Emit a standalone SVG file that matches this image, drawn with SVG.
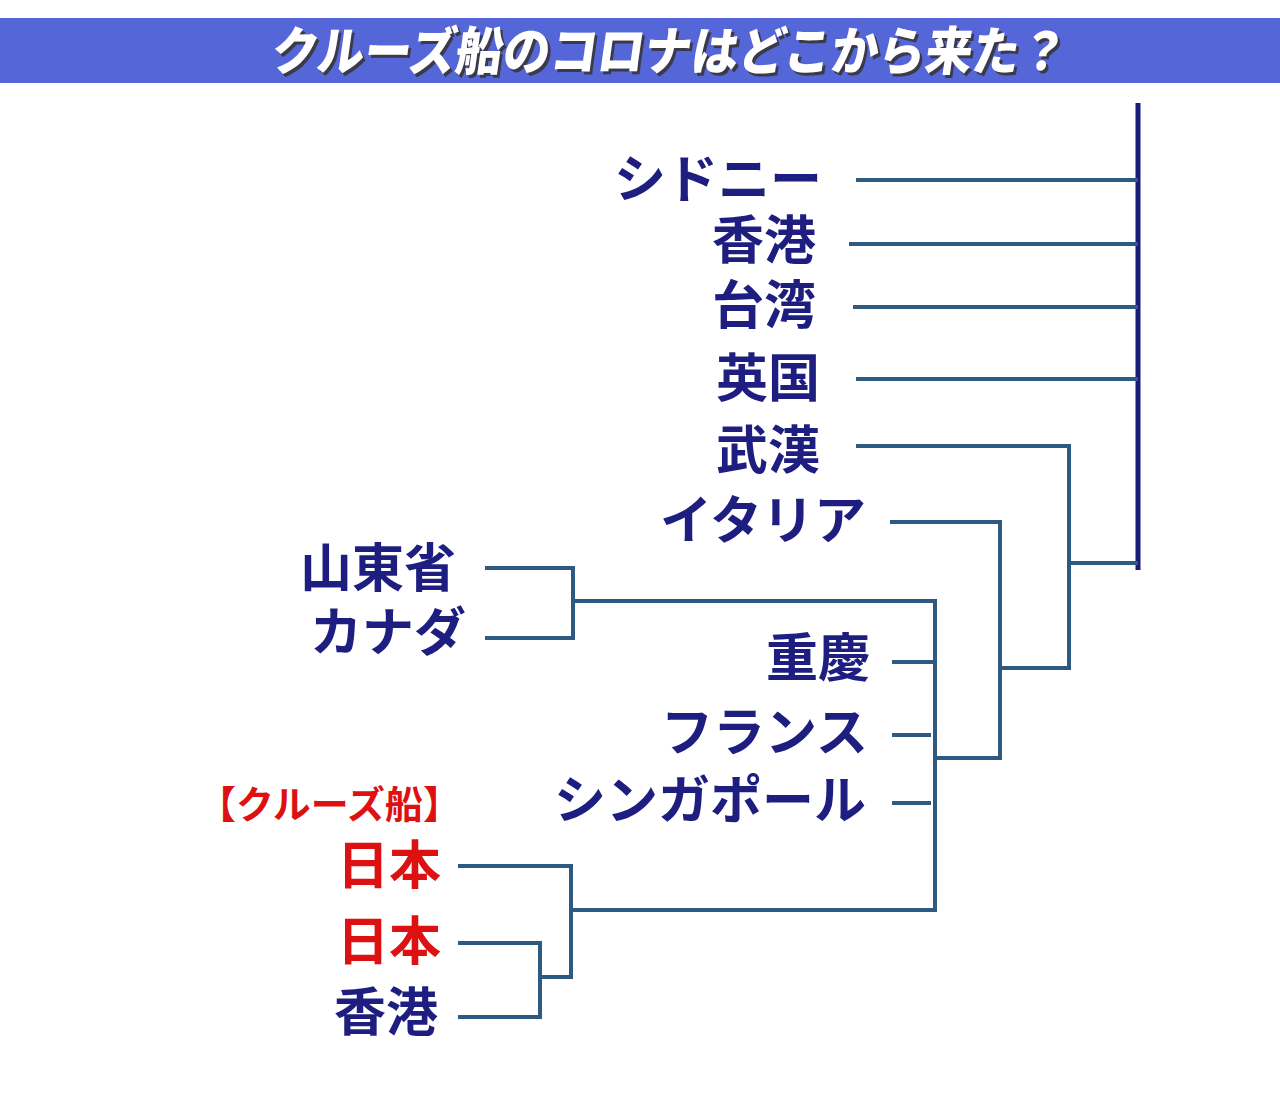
<svg xmlns="http://www.w3.org/2000/svg" width="1280" height="1099" viewBox="0 0 1280 1099">
<style>
.lbl{font-family:"Noto Sans CJK JP","Noto Sans CJK SC",sans-serif;font-weight:700;font-size:52px;fill:#1e1e80;text-anchor:end}
.red{fill:#dd1111}
.ln{fill:none;stroke:#2e5a80;stroke-width:4;stroke-linecap:butt;stroke-linejoin:miter}
.main{fill:none;stroke:#1a1a78;stroke-width:5}
.ttl{font-family:"Noto Sans CJK JP","Noto Sans CJK SC",sans-serif;font-weight:900;font-size:52px;text-anchor:middle}
</style>
<rect width="1280" height="1099" fill="#ffffff"/>
<g id="title">
<rect x="0" y="18" width="1280" height="65" fill="#5566d8"/>
<g transform="translate(667,70) skewX(-8)">
<text class="ttl" x="3" y="3" fill="#3a3a4a" textLength="795" lengthAdjust="spacingAndGlyphs">クルーズ船のコロナはどこから来た？</text>
<text class="ttl" x="0" y="0" fill="#ffffff" textLength="795" lengthAdjust="spacingAndGlyphs">クルーズ船のコロナはどこから来た？</text>
</g>
</g>
<g id="connectors">
<line class="main" x1="1138" y1="103" x2="1138" y2="570"/>
<line class="ln" x1="856" y1="180" x2="1138" y2="180"/>
<line class="ln" x1="849" y1="244" x2="1138" y2="244"/>
<line class="ln" x1="853" y1="307" x2="1138" y2="307"/>
<line class="ln" x1="856" y1="379" x2="1138" y2="379"/>
<polyline class="ln" points="856,446 1069,446 1069,668 1000,668"/>
<line class="ln" x1="1069" y1="563" x2="1138" y2="563"/>
<polyline class="ln" points="890,522 1000,522 1000,758 936,758"/>
<polyline class="ln" points="485,568 573,568 573,638 485,638"/>
<polyline class="ln" points="573,601 935,601 935,910 571,910"/>
<line class="ln" x1="892" y1="662" x2="935" y2="662"/>
<line class="ln" x1="892" y1="735" x2="931" y2="735"/>
<line class="ln" x1="892" y1="803" x2="931" y2="803"/>
<polyline class="ln" points="458,866 571,866 571,977 540,977"/>
<polyline class="ln" points="458,943 540,943 540,1017 458,1017"/>
</g>
<g id="n-sydney"><text class="lbl" x="822" y="198">シドニー</text></g>
<g id="n-hongkong1"><text class="lbl" x="816" y="259">香港</text></g>
<g id="n-taiwan"><text class="lbl" x="816" y="324">台湾</text></g>
<g id="n-uk"><text class="lbl" x="820" y="397">英国</text></g>
<g id="n-wuhan"><text class="lbl" x="820" y="469">武漢</text></g>
<g id="n-italy"><text class="lbl" x="866" y="539">イタリア</text></g>
<g id="n-shandong"><text class="lbl" x="456" y="587">山東省</text></g>
<g id="n-canada"><text class="lbl" x="466" y="651">カナダ</text></g>
<g id="n-chongqing"><text class="lbl" x="870" y="677">重慶</text></g>
<g id="n-france"><text class="lbl" x="868" y="751">フランス</text></g>
<g id="n-singapore"><text class="lbl" x="866" y="819">シンガポール</text></g>
<g id="n-cruise-label"><text class="lbl red" x="198" y="818" style="font-size:38px;text-anchor:start">【クルーズ船】</text></g>
<g id="n-japan1"><text class="lbl red" x="441" y="884">日本</text></g>
<g id="n-japan2"><text class="lbl red" x="441" y="960">日本</text></g>
<g id="n-hongkong2"><text class="lbl" x="438" y="1031">香港</text></g>
</svg>
